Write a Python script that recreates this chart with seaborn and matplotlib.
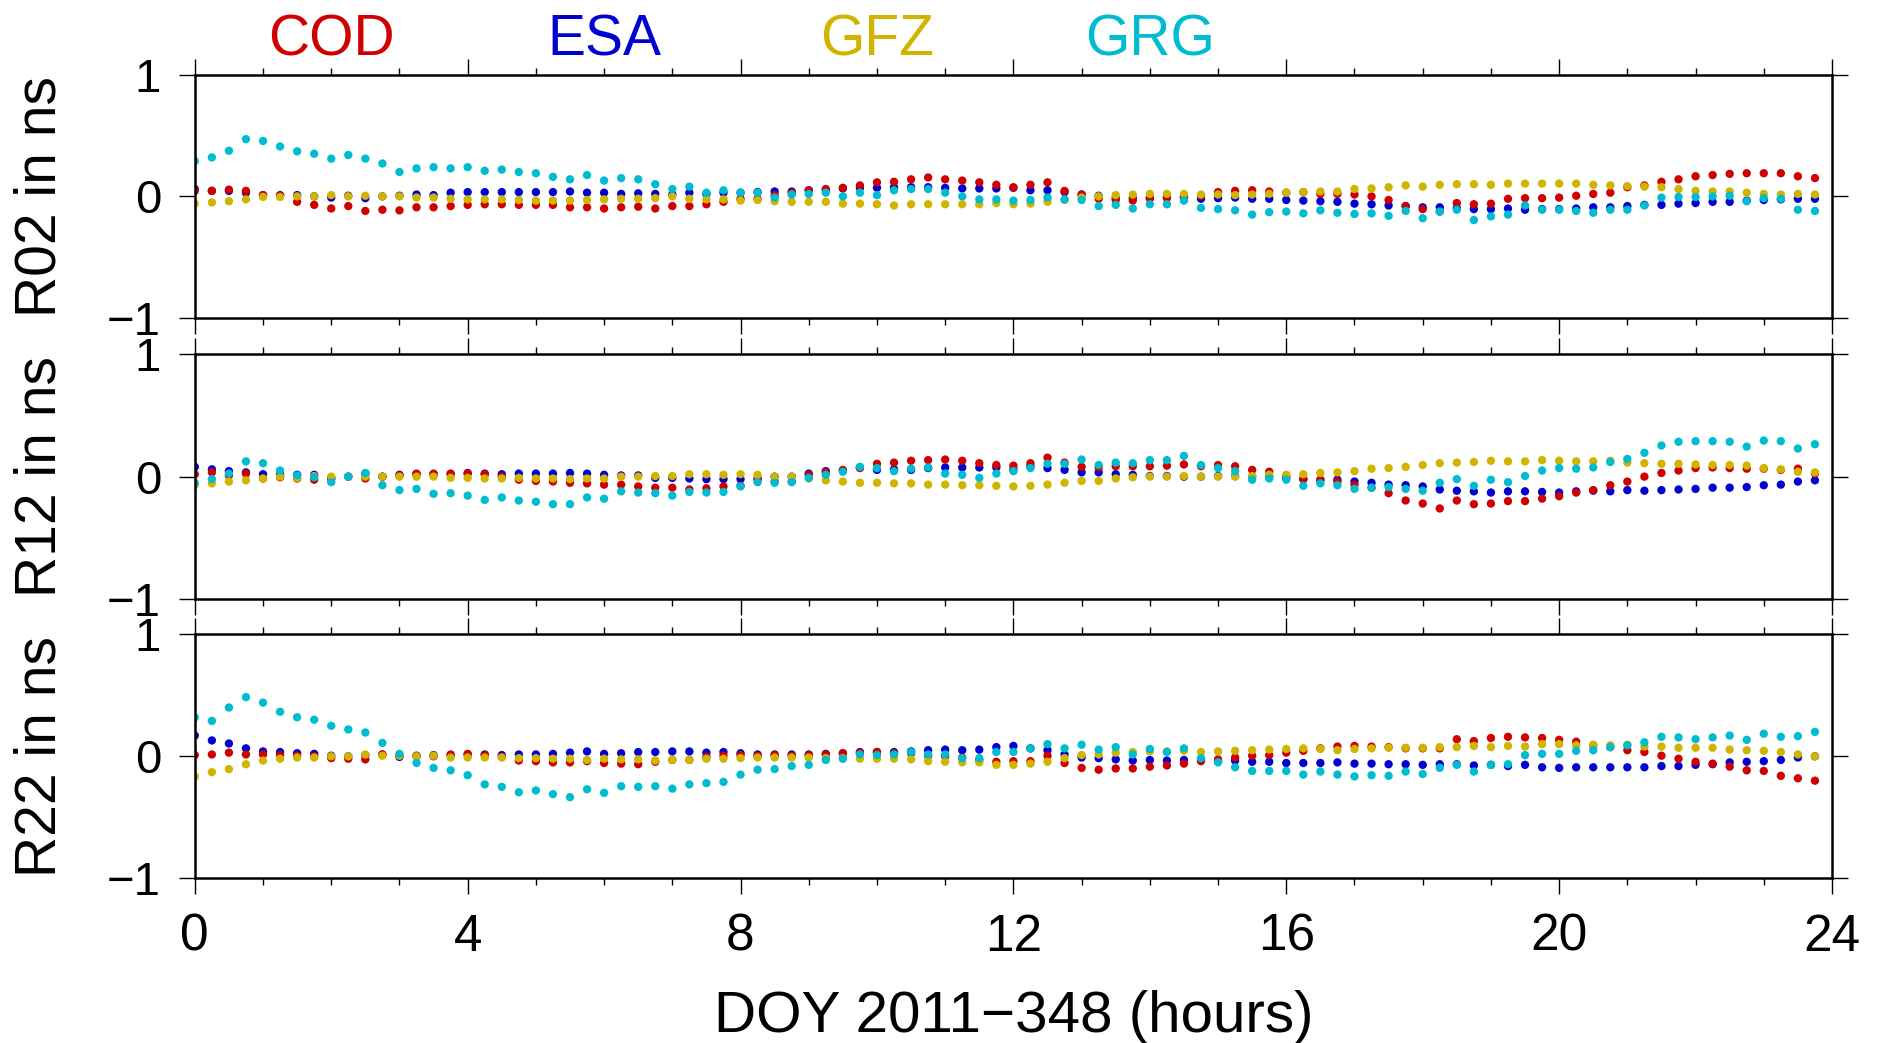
import numpy as np
import pandas as pd
import matplotlib
matplotlib.use("Agg")
import matplotlib.pyplot as plt
import seaborn as sns
from matplotlib.ticker import MultipleLocator

# ---------------- data ----------------
hours = [i * 0.25 for i in range(96)]
centers = ["COD", "ESA", "GFZ", "GRG"]
center_colors = {"COD": "#d00000", "ESA": "#0000d0", "GFZ": "#d0b400", "GRG": "#00bcd0"}
panel_labels = ["R02 in ns", "R12 in ns", "R22 in ns"]

r02_cod = [0.045,0.045,0.055,0.045,0.01,0.005,-0.045,-0.07,
           -0.10,-0.08,-0.12,-0.11,-0.115,-0.09,-0.09,-0.08,
           -0.07,-0.065,-0.065,-0.07,-0.07,-0.07,-0.09,-0.09,
           -0.10,-0.09,-0.085,-0.10,-0.08,-0.08,-0.065,-0.045,
           -0.02,-0.02,0.01,0.03,0.05,0.06,0.07,0.09,
           0.115,0.12,0.14,0.155,0.14,0.13,0.115,0.095,
           0.075,0.095,0.115,0.045,0.015,-0.02,-0.03,-0.035,
           -0.02,-0.015,-0.01,0.005,0.035,0.045,0.05,0.04,
           0.03,0.035,0.02,0.02,0.015,0.0,-0.03,-0.08,
           -0.105,-0.125,-0.055,-0.065,-0.06,-0.02,-0.015,-0.015,
           -0.01,0.005,0.02,0.03,0.075,0.09,0.12,0.14,
           0.165,0.175,0.185,0.19,0.19,0.19,0.165,0.15]
r02_esa = [0.06,0.045,0.045,0.03,0.01,0.01,0.01,0.0,
           -0.01,0.005,-0.015,0.0,0.005,0.015,0.01,0.03,
           0.035,0.035,0.035,0.035,0.035,0.035,0.04,0.03,
           0.03,0.02,0.025,0.02,0.015,0.03,0.02,0.03,
           0.03,0.035,0.04,0.04,0.05,0.055,0.065,0.07,
           0.07,0.075,0.075,0.075,0.07,0.065,0.065,0.065,
           0.07,0.05,0.05,0.035,0.015,0.005,-0.015,-0.015,
           -0.01,-0.005,-0.005,-0.02,-0.015,-0.01,-0.02,-0.02,
           -0.03,-0.035,-0.04,-0.045,-0.06,-0.065,-0.075,-0.08,
           -0.09,-0.09,-0.095,-0.105,-0.105,-0.10,-0.11,-0.105,
           -0.105,-0.10,-0.09,-0.09,-0.08,-0.07,-0.07,-0.06,
           -0.055,-0.045,-0.045,-0.035,-0.03,-0.025,-0.02,-0.02]
r02_gfz = [-0.06,-0.05,-0.04,-0.025,-0.005,-0.005,0.0,0.0,
           0.01,0.0,0.005,0.0,0.0,-0.01,-0.01,-0.02,
           -0.025,-0.025,-0.025,-0.03,-0.035,-0.035,-0.035,-0.03,
           -0.025,-0.02,-0.02,-0.015,0.0,-0.02,-0.025,-0.025,
           -0.035,-0.03,-0.04,-0.045,-0.045,-0.045,-0.06,-0.06,
           -0.065,-0.075,-0.065,-0.065,-0.065,-0.065,-0.065,-0.055,
           -0.065,-0.06,-0.045,-0.03,-0.01,0.0,0.01,0.015,
           0.02,0.02,0.02,0.015,0.015,0.01,0.015,0.02,
           0.03,0.035,0.04,0.04,0.06,0.065,0.075,0.09,
           0.08,0.095,0.10,0.10,0.095,0.105,0.105,0.105,
           0.105,0.105,0.095,0.09,0.085,0.08,0.075,0.06,
           0.045,0.04,0.04,0.03,0.02,0.015,0.02,0.015]
r02_grg = [0.29,0.32,0.375,0.47,0.455,0.41,0.37,0.35,
           0.31,0.34,0.31,0.27,0.20,0.23,0.24,0.23,
           0.24,0.21,0.22,0.20,0.19,0.16,0.14,0.175,
           0.13,0.15,0.14,0.10,0.06,0.08,0.03,0.05,
           0.03,0.03,-0.01,0.015,0.02,0.03,0.0,0.03,
           0.01,0.05,0.06,0.06,0.03,0.0,-0.025,-0.025,
           -0.035,-0.03,-0.01,-0.025,-0.03,-0.08,-0.07,-0.10,
           -0.065,-0.065,-0.035,-0.095,-0.105,-0.115,-0.15,-0.13,
           -0.125,-0.14,-0.115,-0.135,-0.145,-0.14,-0.16,-0.12,
           -0.18,-0.125,-0.11,-0.195,-0.165,-0.15,-0.075,-0.11,
           -0.11,-0.12,-0.135,-0.11,-0.11,-0.075,-0.01,-0.005,
           -0.005,0.0,0.005,-0.04,-0.015,-0.02,-0.11,-0.12]

r12_cod = [0.02,0.035,0.01,0.025,-0.015,-0.005,-0.015,-0.025,
           -0.02,0.0,-0.015,0.0,0.01,0.025,0.025,0.025,
           0.025,0.02,0.0,-0.025,-0.035,-0.04,-0.05,-0.055,
           -0.065,-0.065,-0.08,-0.09,-0.09,-0.105,-0.095,-0.08,
           -0.075,-0.025,-0.04,-0.04,0.015,0.035,0.055,0.07,
           0.105,0.115,0.13,0.135,0.14,0.13,0.11,0.095,
           0.09,0.11,0.155,0.115,0.08,0.075,0.085,0.085,
           0.085,0.09,0.10,0.085,0.095,0.085,0.055,0.04,
           0.005,-0.02,-0.03,-0.04,-0.065,-0.09,-0.135,-0.195,
           -0.22,-0.26,-0.195,-0.225,-0.22,-0.20,-0.20,-0.18,
           -0.16,-0.13,-0.11,-0.07,-0.04,0.0,0.03,0.05,
           0.07,0.075,0.07,0.065,0.065,0.055,0.065,0.025]
r12_esa = [0.08,0.06,0.045,0.035,0.02,0.015,0.015,0.015,
           -0.01,0.0,0.025,0.0,0.015,0.02,0.02,0.02,
           0.03,0.025,0.02,0.025,0.025,0.025,0.03,0.025,
           0.015,0.01,0.01,-0.01,-0.01,-0.015,-0.02,-0.02,
           -0.02,-0.015,0.0,0.0,0.025,0.045,0.05,0.075,
           0.055,0.06,0.055,0.07,0.075,0.075,0.075,0.075,
           0.06,0.085,0.07,0.055,0.035,0.035,0.02,0.015,
           0.005,0.005,0.0,0.0,0.005,0.005,0.0,0.005,
           -0.01,-0.02,-0.025,-0.025,-0.04,-0.05,-0.065,-0.07,
           -0.08,-0.105,-0.115,-0.12,-0.13,-0.12,-0.12,-0.125,
           -0.13,-0.12,-0.115,-0.12,-0.11,-0.115,-0.11,-0.105,
           -0.10,-0.09,-0.09,-0.085,-0.07,-0.065,-0.04,-0.03]
r12_gfz = [-0.07,-0.055,-0.04,-0.03,-0.015,0.0,-0.01,0.005,
           0.0,0.0,0.0,0.0,0.0,0.0,0.0,-0.01,
           -0.01,-0.015,-0.015,-0.01,-0.015,-0.015,-0.02,-0.015,
           -0.015,0.0,0.0,0.005,0.005,0.02,0.02,0.015,
           0.02,0.015,0.0,0.0,-0.015,-0.03,-0.04,-0.05,
           -0.05,-0.055,-0.055,-0.065,-0.065,-0.07,-0.07,-0.075,
           -0.08,-0.075,-0.065,-0.05,-0.035,-0.035,-0.015,-0.005,
           0.0,0.0,0.005,0.0,0.0,0.0,0.005,0.015,
           0.015,0.02,0.03,0.035,0.045,0.065,0.07,0.08,
           0.095,0.11,0.115,0.12,0.13,0.125,0.125,0.135,
           0.13,0.125,0.125,0.13,0.115,0.11,0.105,0.105,
           0.10,0.095,0.095,0.09,0.07,0.06,0.04,0.035]
r12_grg = [-0.05,-0.02,0.025,0.125,0.11,0.05,0.01,-0.005,
           -0.045,0.0,0.03,-0.07,-0.11,-0.10,-0.14,-0.135,
           -0.155,-0.19,-0.17,-0.195,-0.205,-0.225,-0.225,-0.17,
           -0.18,-0.12,-0.13,-0.135,-0.155,-0.125,-0.13,-0.125,
           -0.08,-0.045,-0.05,-0.045,-0.01,0.015,0.04,0.08,
           0.07,0.045,0.065,0.075,0.025,0.015,-0.01,0.025,
           0.045,0.07,0.105,0.105,0.14,0.095,0.115,0.11,
           0.135,0.135,0.17,0.095,0.07,0.045,-0.025,-0.015,
           -0.025,-0.075,-0.055,-0.07,-0.10,-0.09,-0.085,-0.10,
           -0.115,-0.05,-0.02,-0.075,-0.025,-0.045,0.005,0.05,
           0.07,0.065,0.075,0.12,0.145,0.195,0.255,0.285,
           0.29,0.29,0.285,0.245,0.295,0.29,0.23,0.265]

r22_cod = [0.01,0.015,0.03,0.015,0.015,0.01,0.005,0.0,
           -0.015,-0.02,-0.025,0.015,0.005,0.0,0.0,0.015,
           0.02,0.01,-0.005,-0.035,-0.04,-0.05,-0.05,-0.04,
           -0.055,-0.06,-0.065,-0.045,-0.03,-0.03,-0.005,0.005,
           0.01,0.005,0.01,0.005,0.01,0.015,0.025,0.03,
           0.035,0.025,0.025,0.005,0.0,-0.01,-0.03,-0.045,
           -0.04,-0.04,0.005,-0.055,-0.095,-0.11,-0.10,-0.10,
           -0.085,-0.075,-0.06,-0.04,-0.025,-0.01,0.005,0.01,
           0.03,0.045,0.065,0.08,0.085,0.08,0.075,0.065,
           0.065,0.065,0.14,0.125,0.15,0.16,0.155,0.15,
           0.135,0.12,0.09,0.075,0.05,0.035,0.005,-0.02,
           -0.045,-0.06,-0.085,-0.115,-0.12,-0.16,-0.18,-0.20]
r22_esa = [0.17,0.13,0.105,0.065,0.04,0.035,0.025,0.02,
           0.005,0.0,0.01,0.015,-0.005,0.005,0.01,0.01,
           0.015,0.015,0.01,0.015,0.015,0.02,0.03,0.04,
           0.02,0.025,0.035,0.035,0.04,0.04,0.03,0.035,
           0.025,0.015,0.015,0.015,0.015,0.02,0.025,0.035,
           0.035,0.035,0.04,0.05,0.055,0.05,0.055,0.075,
           0.085,0.065,0.05,0.015,-0.01,-0.015,-0.025,-0.035,
           -0.03,-0.035,-0.03,-0.025,-0.04,-0.035,-0.045,-0.045,
           -0.055,-0.055,-0.055,-0.05,-0.06,-0.06,-0.065,-0.065,
           -0.07,-0.065,-0.065,-0.075,-0.07,-0.08,-0.07,-0.09,
           -0.095,-0.09,-0.09,-0.09,-0.09,-0.09,-0.08,-0.08,
           -0.07,-0.065,-0.05,-0.045,-0.04,-0.03,-0.01,0.0]
r22_gfz = [-0.165,-0.13,-0.105,-0.065,-0.035,-0.02,-0.01,-0.01,
           0.0,0.0,0.015,0.005,0.005,0.0,0.005,-0.01,
           -0.01,-0.01,-0.01,-0.015,-0.015,-0.02,-0.02,-0.03,
           -0.02,-0.025,-0.025,-0.035,-0.03,-0.03,-0.02,-0.02,
           -0.015,-0.01,-0.01,-0.01,-0.01,-0.015,-0.015,-0.02,
           -0.02,-0.02,-0.025,-0.04,-0.045,-0.05,-0.05,-0.07,
           -0.07,-0.06,-0.045,-0.015,0.01,0.015,0.03,0.035,
           0.04,0.04,0.045,0.035,0.04,0.045,0.05,0.055,
           0.06,0.065,0.06,0.05,0.06,0.065,0.07,0.07,
           0.07,0.075,0.075,0.085,0.075,0.085,0.08,0.10,
           0.10,0.09,0.095,0.09,0.095,0.08,0.08,0.07,
           0.07,0.07,0.055,0.05,0.045,0.035,0.015,0.0]
r22_grg = [0.32,0.29,0.40,0.485,0.44,0.365,0.32,0.30,
           0.25,0.22,0.195,0.11,0.02,-0.055,-0.095,-0.115,
           -0.155,-0.23,-0.25,-0.295,-0.28,-0.31,-0.335,-0.27,
           -0.30,-0.245,-0.25,-0.245,-0.265,-0.23,-0.22,-0.21,
           -0.15,-0.11,-0.105,-0.08,-0.07,-0.03,-0.02,0.015,
           0.01,0.015,0.035,0.015,0.015,-0.015,-0.015,0.035,
           0.035,0.065,0.10,0.065,0.095,0.055,0.075,0.015,
           0.06,0.035,0.065,-0.015,-0.05,-0.09,-0.12,-0.12,
           -0.12,-0.15,-0.125,-0.15,-0.165,-0.155,-0.16,-0.125,
           -0.145,-0.095,-0.07,-0.125,-0.07,-0.065,0.01,0.02,
           0.02,0.045,0.05,0.075,0.09,0.115,0.16,0.155,
           0.14,0.155,0.17,0.135,0.185,0.16,0.165,0.20]

panels = [
    {"COD": r02_cod, "ESA": r02_esa, "GFZ": r02_gfz, "GRG": r02_grg},
    {"COD": r12_cod, "ESA": r12_esa, "GFZ": r12_gfz, "GRG": r12_grg},
    {"COD": r22_cod, "ESA": r22_esa, "GFZ": r22_gfz, "GRG": r22_grg},
]
draw_order = ["ESA", "COD", "GFZ", "GRG"]

# ---------------- figure ----------------
sns.set_style("ticks")
plt.rcParams['font.family'] = ['Liberation Sans', 'DejaVu Sans']
plt.rcParams['text.color'] = 'black'
plt.rcParams['axes.labelcolor'] = 'black'
plt.rcParams['xtick.color'] = 'black'
plt.rcParams['ytick.color'] = 'black'
plt.rcParams['axes.edgecolor'] = 'black'

W, H = 1877, 1043
fig = plt.figure(figsize=(W / 100, H / 100), dpi=100)

left_px, right_px = 194.8, 1832.0
panel_px = [(74.7, 318.0), (354.3, 599.0), (634.3, 878.3)]

axes = []
for k, (top, bot) in enumerate(panel_px):
    ax = fig.add_axes([left_px / W, 1 - bot / H, (right_px - left_px) / W, (bot - top) / H])
    axes.append(ax)
    frames = []
    for c in draw_order:
        frames.append(pd.DataFrame({"hour": hours, "value": panels[k][c], "center": c}))
    df = pd.concat(frames, ignore_index=True)
    sns.scatterplot(data=df, x="hour", y="value", hue="center", palette=center_colors,
                    s=36, linewidth=0, legend=False, ax=ax)
    ax.set_xlim(0, 24)
    ax.set_ylim(-1, 1)
    ax.set_yticks([-1, 0, 1])
    ax.set_yticklabels(["\u22121", "0", "1"])
    ax.xaxis.set_major_locator(MultipleLocator(4))
    ax.xaxis.set_minor_locator(MultipleLocator(1))
    ax.tick_params(axis="both", which="both", direction="out", top=True, right=True,
                   color="black", labelcolor="black", width=1.0)
    ax.tick_params(axis="both", which="major", length=11.3)
    ax.tick_params(axis="x", which="minor", length=5)
    ax.tick_params(axis="y", labelsize=34, pad=13)
    ax.tick_params(axis="x", labelsize=37, pad=13.5)
    for sp in ax.spines.values():
        sp.set_linewidth(1.8)
        sp.set_color("black")
    ax.set_xlabel("")
    ax.set_ylabel("")
    if k < 2:
        ax.tick_params(axis="x", labelbottom=False)
    fig.text(41 / W, 1 - (top + bot) / 2 / H, panel_labels[k], rotation=90,
             ha="center", va="center", fontsize=41, color="black")

# header legend
legend_hours = [2, 6, 10, 14]
for c, hx in zip(centers, legend_hours):
    axes[0].text(hx, 1 + (74.7 - 55) / (318.0 - 74.7), c, color=center_colors[c],
                 transform=axes[0].get_xaxis_transform(), ha="center", va="baseline",
                 fontsize=41)

fig.text((left_px + right_px) / 2 / W, 1 - 1032 / H, "DOY 2011\u2212348 (hours)",
         ha="center", va="baseline", fontsize=42, color="black")

fig.savefig("out.png", dpi=100, facecolor="white")
